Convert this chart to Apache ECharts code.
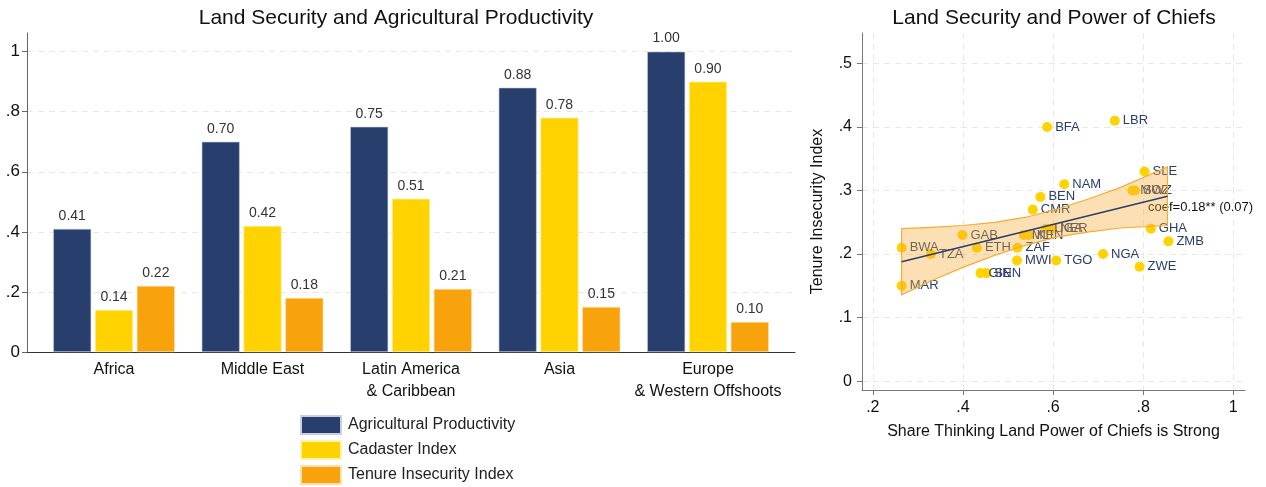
<!DOCTYPE html>
<html>
<head>
<meta charset="utf-8">
<script src="https://cdn.jsdelivr.net/npm/echarts@6/dist/echarts.min.js"></script>
<style>
  html, body { margin: 0; padding: 0; background: #fff; }
  #main { width: 1266px; height: 487px; }
</style>
</head>
<body>
<div id="main"></div>
<script>
var regions = ['Africa', 'Middle East', 'Latin America\n& Caribbean', 'Asia', 'Europe\n& Western Offshoots'];
var agriProd = [0.41, 0.70, 0.75, 0.88, 1.00];
var cadaster = [0.14, 0.42, 0.51, 0.78, 0.90];
var tenure = [0.22, 0.18, 0.21, 0.15, 0.10];

var countries = ['BFA', 'LBR', 'SLE', 'NAM', 'MOZ', 'SWZ', 'BEN', 'CMR', 'GHA', 'ZMB', 'UGA', 'NER', 'MLI',
  'KEN', 'GAB', 'BWA', 'TZA', 'ETH', 'ZAF', 'NGA', 'MWI', 'TGO', 'ZWE', 'SEN', 'GIN', 'MAR'];
var chiefShare = [0.587, 0.737, 0.803, 0.625, 0.776, 0.782, 0.572, 0.555, 0.817, 0.856, 0.585, 0.598, 0.535,
  0.546, 0.399, 0.264, 0.329, 0.431, 0.521, 0.711, 0.520, 0.607, 0.792, 0.452, 0.439, 0.264];
var insecurity = [0.40, 0.41, 0.33, 0.31, 0.30, 0.30, 0.29, 0.27, 0.24, 0.22, 0.24, 0.24, 0.23,
  0.23, 0.23, 0.21, 0.20, 0.21, 0.21, 0.20, 0.19, 0.19, 0.18, 0.17, 0.17, 0.15];

// fitted line ends and confidence band
var fitX = [0.264, 0.854];
var fitY = [0.188, 0.291];
var bandX = [0.264, 0.33, 0.40, 0.47, 0.54, 0.61, 0.68, 0.75, 0.854];
var bandUpper = [0.240, 0.242, 0.245, 0.250, 0.258, 0.271, 0.287, 0.305, 0.337];
var bandLower = [0.136, 0.158, 0.179, 0.198, 0.214, 0.227, 0.235, 0.241, 0.245];

var barTicks = [0, 0.2, 0.4, 0.6, 0.8, 1];
var xTicks = [0.2, 0.4, 0.6, 0.8, 1];
var yTicks = [0, 0.1, 0.2, 0.3, 0.4, 0.5];

var navy = '#283e6c';
var yellow = '#ffd200';
var orange = '#f8a20c';
var font = 'Liberation Sans, Arial, sans-serif';

function dotless(v) {
  if (v === 0) return '0';
  if (v === 1) return '1';
  return String(+v.toFixed(2)).replace('0.', '.');
}

function barData(arr) {
  var out = [];
  for (var i = 0; i < arr.length; i++) out.push([i, arr[i]]);
  return out;
}

function legendItem(name, top) {
  return {
    data: [name], left: 300, top: top, padding: 0,
    itemWidth: 40, itemHeight: 18, icon: 'rect',
    textStyle: { fontSize: 16, color: '#222', padding: [0, 0, 0, 2] }
  };
}

var barLabel = {
  show: true,
  position: 'top',
  distance: 6,
  fontSize: 14,
  color: '#333',
  formatter: function (p) { return p.value[1].toFixed(2); }
};

var scatterData = [];
for (var i = 0; i < countries.length; i++) {
  scatterData.push({ name: countries[i], value: [chiefShare[i], insecurity[i]] });
}

var chart = echarts.init(document.getElementById('main'));

var option = {
  animation: false,
  textStyle: { fontFamily: font },
  title: [
    {
      text: 'Land Security and Agricultural Productivity',
      left: 396, top: 8, padding: 0, textAlign: 'center',
      textStyle: { fontSize: 21, fontWeight: 'normal', color: '#111' }
    },
    {
      text: 'Land Security and Power of Chiefs',
      left: 1054, top: 8, padding: 0, textAlign: 'center',
      textStyle: { fontSize: 21, fontWeight: 'normal', color: '#111' }
    }
  ],
  legend: [
    legendItem('Agricultural Productivity', 415),
    legendItem('Cadaster Index', 440),
    legendItem('Tenure Insecurity Index', 465)
  ],
  graphic: [
    {
      type: 'text', left: 1148, top: 201,
      style: { text: 'coef=0.18** (0.07)', fontSize: 13, fill: '#111', fontFamily: font }
    }
  ],
  grid: [
    { left: 27, top: 33, width: 768, height: 319, outerBoundsMode: 'none', containLabel: false },
    { left: 862, top: 33, width: 383, height: 357, outerBoundsMode: 'none', containLabel: false }
  ],
  xAxis: [
    {
      gridIndex: 0, type: 'value', min: -0.586, max: 4.586,
      axisLine: { show: true, onZero: false, lineStyle: { color: '#333' } },
      axisTick: { show: false },
      splitLine: { show: false },
      axisLabel: {
        customValues: [0, 1, 2, 3, 4],
        fontSize: 16, color: '#111', margin: 7, lineHeight: 22,
        formatter: function (v) { return regions[v]; }
      }
    },
    {
      gridIndex: 1, type: 'value', min: 0.176, max: 1.026,
      axisLine: { show: true, onZero: false, lineStyle: { color: '#777' } },
      axisTick: { show: true, length: 5, customValues: xTicks, lineStyle: { color: '#777' } },
      splitLine: { show: true, lineStyle: { color: '#e8e8e8', type: [6, 5] } },
      axisLabel: { customValues: xTicks, fontSize: 16, color: '#111', margin: 10, formatter: dotless },
      name: 'Share Thinking Land Power of Chiefs is Strong',
      nameLocation: 'middle', nameGap: 34,
      nameTextStyle: { fontSize: 16, color: '#111' }
    }
  ],
  yAxis: [
    {
      gridIndex: 0, type: 'value', min: 0, max: 1.062,
      axisLine: { show: true, onZero: false, lineStyle: { color: '#666' } },
      axisTick: { show: true, length: 5, customValues: barTicks, lineStyle: { color: '#666' } },
      splitLine: { show: true, lineStyle: { color: '#e8e8e8', type: [6, 5] } },
      axisLabel: { customValues: barTicks, fontSize: 17, color: '#111', margin: 7, formatter: dotless }
    },
    {
      gridIndex: 1, type: 'value', min: -0.014, max: 0.548,
      axisLine: { show: true, onZero: false, lineStyle: { color: '#777' } },
      axisTick: { show: true, length: 5, customValues: yTicks, lineStyle: { color: '#777' } },
      splitLine: { show: true, lineStyle: { color: '#e8e8e8', type: [6, 5] } },
      axisLabel: { customValues: yTicks, fontSize: 16, color: '#111', margin: 10, formatter: dotless },
      name: 'Tenure Insecurity Index',
      nameLocation: 'middle', nameGap: 36,
      nameTextStyle: { fontSize: 16, color: '#111' }
    }
  ],
  series: [
    {
      name: 'Agricultural Productivity', type: 'bar', xAxisIndex: 0, yAxisIndex: 0,
      data: barData(agriProd), barWidth: 38, barGap: '10%',
      itemStyle: { color: navy, borderColor: '#c8d0e0', borderWidth: 0.6 },
      label: barLabel
    },
    {
      name: 'Cadaster Index', type: 'bar', xAxisIndex: 0, yAxisIndex: 0,
      data: barData(cadaster), barWidth: 38, barGap: '10%',
      itemStyle: { color: yellow, borderColor: '#fff3b0', borderWidth: 0.6 },
      label: barLabel
    },
    {
      name: 'Tenure Insecurity Index', type: 'bar', xAxisIndex: 0, yAxisIndex: 0,
      data: barData(tenure), barWidth: 38, barGap: '10%',
      itemStyle: { color: orange, borderColor: '#fde0b0', borderWidth: 0.6 },
      label: barLabel
    },
    {
      name: 'countries', type: 'scatter', xAxisIndex: 1, yAxisIndex: 1,
      data: scatterData, symbolSize: 10, z: 2,
      itemStyle: { color: yellow, opacity: 1 },
      label: {
        show: true, position: 'right', distance: 3,
        fontSize: 13, color: navy,
        formatter: function (p) { return p.name; }
      }
    },
    {
      name: 'band', type: 'custom', xAxisIndex: 1, yAxisIndex: 1, z: 5,
      data: [0], silent: true,
      renderItem: function (params, api) {
        var pts = [];
        for (var k = 0; k < bandX.length; k++) pts.push(api.coord([bandX[k], bandUpper[k]]));
        for (var k = bandX.length - 1; k >= 0; k--) pts.push(api.coord([bandX[k], bandLower[k]]));
        return {
          type: 'polygon',
          shape: { points: pts },
          style: { fill: 'rgba(248,170,45,0.36)', stroke: '#f5ac35', lineWidth: 1.2 }
        };
      }
    },
    {
      name: 'fit', type: 'line', xAxisIndex: 1, yAxisIndex: 1, z: 6,
      data: [[fitX[0], fitY[0]], [fitX[1], fitY[1]]],
      symbol: 'none', silent: true,
      lineStyle: { color: navy, width: 1.5 }
    }
  ]
};

chart.setOption(option, true);
</script>
</body>
</html>
